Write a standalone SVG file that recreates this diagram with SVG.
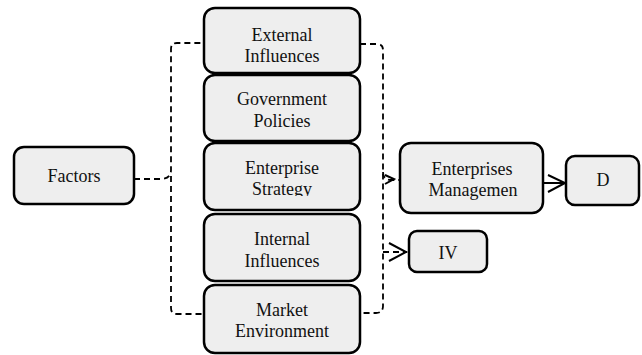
<svg xmlns="http://www.w3.org/2000/svg" width="642" height="355" viewBox="0 0 642 355">
  <defs>
    <style>
      .box { fill: #eeeeee; stroke: #000; stroke-width: 2.5; }
      .lbl { font-family: "Liberation Serif", "Times New Roman", serif; font-size: 18px; fill: #111; text-anchor: middle; }
      .dash { fill: none; stroke: #000; stroke-width: 1.8; stroke-dasharray: 6 4; }
      .solid { fill: none; stroke: #000; stroke-width: 2; }
    </style>
    <clipPath id="clipStrategy">
      <rect x="204" y="143" width="156" height="53"/>
    </clipPath>
  </defs>

  <rect width="642" height="355" fill="#fff"/>

  <!-- connectors -->
  <g id="connectors">
    <path class="dash" d="M 134 179 L 160 179 Q 171 179 171 170 L 171 49 Q 171 43 177 43 L 203 43"/>
    <path class="dash" d="M 171 176 L 171 308 Q 171 314 177 314 L 203 314"/>
    <path class="dash" d="M 360 44 L 377 44 Q 383 44 383 50 L 383 306 Q 383 313 376 313 L 360 313"/>
    <path class="dash" d="M 383 172 Q 383 180 391 180 L 400 180"/>
    <path class="solid" stroke-width="1.8" d="M 385 175 L 394 179 L 385 184"/>
    <path class="dash" d="M 383 252 L 407 252"/>
    <path class="solid" d="M 389 243 L 406 252 L 389 261"/>
    <path class="solid" d="M 543 183 L 565 183"/>
    <path class="solid" d="M 548 175 L 565 183 L 548 192"/>
  </g>

  <g id="factors">
    <rect class="box" x="14" y="147" width="120" height="57" rx="10"/>
    <text class="lbl" x="74" y="182">Factors</text>
  </g>

  <g id="external-influences">
    <rect class="box" x="204" y="8" width="156" height="65" rx="11"/>
    <text class="lbl" x="282" y="41">External</text>
    <text class="lbl" x="282" y="62">Influences</text>
  </g>

  <g id="government-policies">
    <rect class="box" x="204" y="75" width="156" height="66" rx="11"/>
    <text class="lbl" x="282" y="105">Government</text>
    <text class="lbl" x="282" y="127">Policies</text>
  </g>

  <g id="enterprise-strategy">
    <rect class="box" x="204" y="143" width="156" height="67" rx="11"/>
    <g clip-path="url(#clipStrategy)">
      <text class="lbl" x="282" y="174">Enterprise</text>
      <text class="lbl" x="282" y="195">Strategy</text>
    </g>
  </g>

  <g id="internal-influences">
    <rect class="box" x="204" y="214" width="156" height="67" rx="11"/>
    <text class="lbl" x="282" y="245">Internal</text>
    <text class="lbl" x="282" y="267">Influences</text>
  </g>

  <g id="market-environment">
    <rect class="box" x="204" y="285" width="156" height="68" rx="11"/>
    <text class="lbl" x="282" y="316">Market</text>
    <text class="lbl" x="282" y="337">Environment</text>
  </g>

  <g id="enterprises-management">
    <rect class="box" x="400" y="143" width="143" height="70" rx="11"/>
    <text class="lbl" x="472" y="175">Enterprises</text>
    <text class="lbl" x="473" y="196">Managemen</text>
  </g>

  <g id="d">
    <rect class="box" x="566" y="156" width="73" height="49" rx="9"/>
    <text class="lbl" x="603" y="186">D</text>
  </g>

  <g id="iv">
    <rect class="box" x="409" y="231" width="78" height="41" rx="8"/>
    <text class="lbl" x="448" y="259">IV</text>
  </g>
</svg>
